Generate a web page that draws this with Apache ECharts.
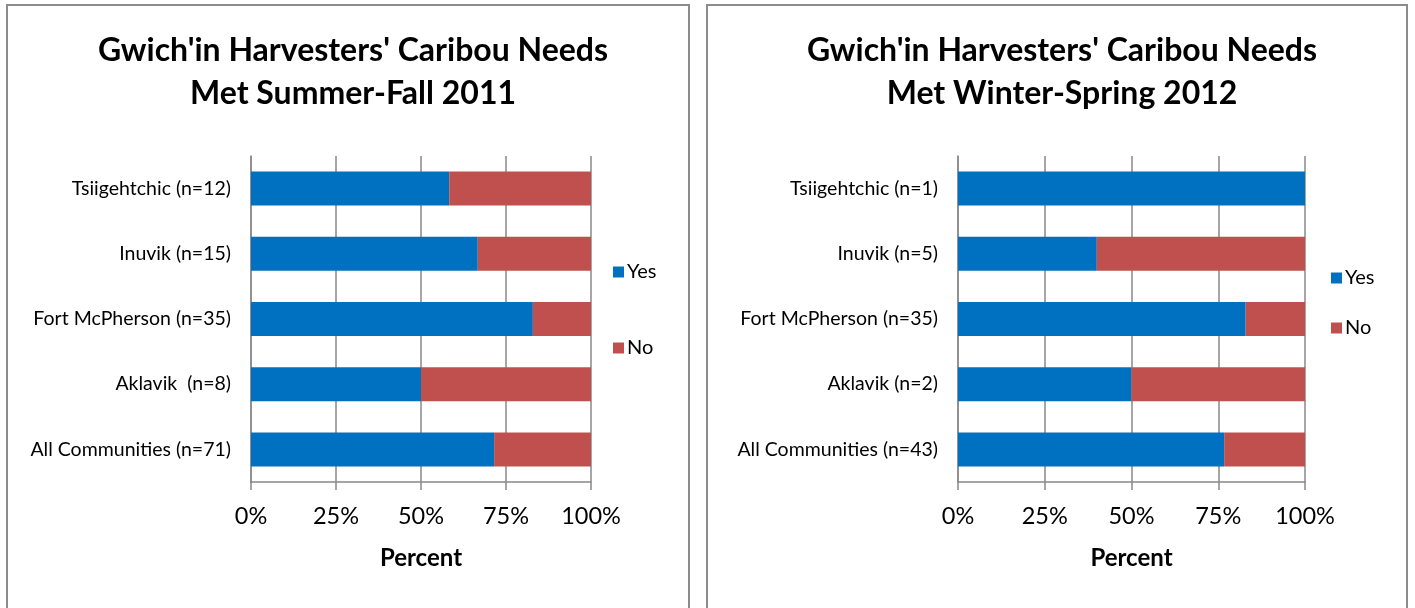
<!DOCTYPE html>
<html>
<head>
<meta charset="utf-8">
<script src="https://cdn.jsdelivr.net/npm/echarts@6/dist/echarts.min.js"></script>
<style>
html,body{margin:0;padding:0;background:#fff;}
#main{width:1415px;height:608px;}
</style>
</head>
<body>
<div id="main"></div>
<script>
// Categories listed bottom-to-top (category axis draws first item at bottom)
const categoriesLeft = ['All Communities (n=71)', 'Aklavik  (n=8)', 'Fort McPherson (n=35)', 'Inuvik (n=15)', 'Tsiigehtchic (n=12)'];
const categoriesRight = ['All Communities (n=43)', 'Aklavik (n=2)', 'Fort McPherson (n=35)', 'Inuvik (n=5)', 'Tsiigehtchic (n=1)'];
const yesLeft = [71.5, 50, 82.9, 66.7, 58.3];
const noLeft = [28.5, 50, 17.1, 33.3, 41.7];
const yesRight = [76.7, 50, 82.9, 40, 100];
const noRight = [23.3, 50, 17.1, 60, 0];
const tickValues = [0, 25, 50, 75, 100];
const titleLeft = "Gwich'in Harvesters' Caribou Needs\nMet Summer-Fall 2011";
const titleRight = "Gwich'in Harvesters' Caribou Needs\nMet Winter-Spring 2012";
const axisTitle = 'Percent';

const FONT = 'Lato';
const GRAY = '#888888';
const chart = echarts.init(document.getElementById('main'), null, {renderer: 'canvas'});

function xAxisDef(idx) {
  return {
    gridIndex: idx, type: 'value', min: 0, max: 100, interval: 25,
    name: axisTitle, nameLocation: 'middle', nameGap: 64,
    nameTextStyle: {fontFamily: FONT, fontSize: 24, fontWeight: 'bold', color: '#000'},
    axisLine: {show: true, lineStyle: {color: GRAY, width: 1.5}},
    axisTick: {show: true, length: 8, lineStyle: {color: GRAY, width: 1.5}},
    axisLabel: {margin: 22, fontFamily: FONT, fontSize: 23.5, color: '#000',
      formatter: v => tickValues.includes(v) ? v + '%' : ''},
    splitLine: {show: true, lineStyle: {color: GRAY, width: 1.5}}
  };
}
function yAxisDef(idx, cats) {
  return {
    gridIndex: idx, type: 'category', data: cats,
    axisLine: {show: true, lineStyle: {color: GRAY, width: 1.5}},
    axisTick: {show: false},
    axisLabel: {margin: 20, fontFamily: FONT, fontSize: 19.5, color: '#000'}
  };
}
function barSeries(name, data, idx, color) {
  return {
    name: name, type: 'bar', stack: 's' + idx, xAxisIndex: idx, yAxisIndex: idx,
    data: data, barWidth: 34, itemStyle: {color: color}, silent: true
  };
}

chart.setOption({
  animation: false,
  backgroundColor: '#fff',
  title: [
    {text: titleLeft, left: 348, top: 24, textAlign: 'center',
      textStyle: {fontFamily: FONT, fontSize: 32, fontWeight: 'bold', color: '#000', lineHeight: 43}},
    {text: titleRight, left: 1057, top: 24, textAlign: 'center',
      textStyle: {fontFamily: FONT, fontSize: 32, fontWeight: 'bold', color: '#000', lineHeight: 43}}
  ],
  legend: [
    {data: ['Yes', 'No'], orient: 'vertical', left: 608, top: 257, itemGap: 56,
      itemWidth: 11, itemHeight: 11, icon: 'rect',
      textStyle: {fontFamily: FONT, fontSize: 20, color: '#000', padding: [0, 0, 0, -2]}},
    {data: ['Yes', 'No'], orient: 'vertical', left: 1326, top: 263, itemGap: 30,
      itemWidth: 11, itemHeight: 11, icon: 'rect',
      textStyle: {fontFamily: FONT, fontSize: 20, color: '#000', padding: [0, 0, 0, -2]}}
  ],
  grid: [
    {left: 251, top: 156, width: 340, height: 326},
    {left: 958, top: 156, width: 347, height: 326}
  ],
  xAxis: [xAxisDef(0), xAxisDef(1)],
  yAxis: [yAxisDef(0, categoriesLeft), yAxisDef(1, categoriesRight)],
  series: [
    barSeries('Yes', yesLeft, 0, '#0070C0'),
    barSeries('No', noLeft, 0, '#C0504D'),
    barSeries('Yes', yesRight, 1, '#0070C0'),
    barSeries('No', noRight, 1, '#C0504D')
  ],
  graphic: [
    {type: 'rect', shape: {x: 7, y: 5, width: 682, height: 640}, style: {fill: 'none', stroke: '#8c8c8c', lineWidth: 2}, silent: true},
    {type: 'rect', shape: {x: 707, y: 5, width: 700, height: 640}, style: {fill: 'none', stroke: '#8c8c8c', lineWidth: 2}, silent: true}
  ]
});
</script>
</body>
</html>
